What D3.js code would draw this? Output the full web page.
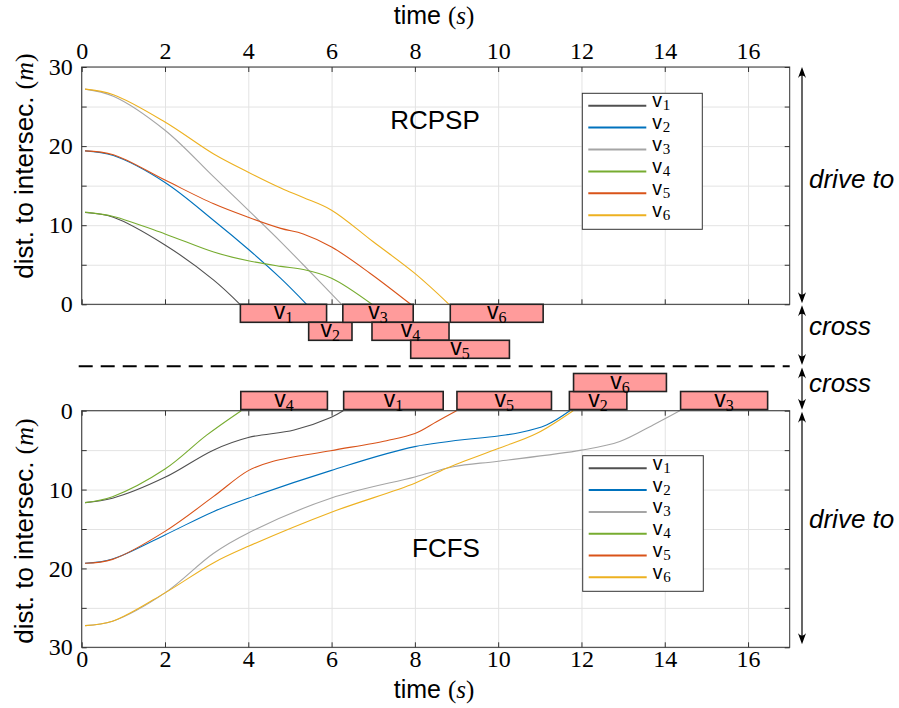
<!DOCTYPE html>
<html><head><meta charset="utf-8">
<script src="https://cdn.jsdelivr.net/npm/d3@7"></script>
<style>
body{margin:0;background:#fff;}
svg{display:block;}
.tick text{font-family:"Liberation Serif","DejaVu Serif",serif;font-size:24px;fill:#000;}
</style>
</head><body>
<svg id="c" width="899" height="708"></svg>
<script>
// ---------------- data ----------------
const vehicles = ["1","2","3","4","5","6"];
const colors = ["#505050","#0072BD","#A5A5A5","#77AC30","#D95319","#EDB120"];
const xTickValues = [0,2,4,6,8,10,12,14,16];
const yTickValues = [0,5,10,15,20,25,30];

// RCPSP trajectories: [time (s), distance (m)]
const rcpspV1 = [[0.08,11.6],[0.76,11.0],[2,7.5],[3.17,3.06],[3.8,0]];
const rcpspV2 = [[0.08,19.4],[0.76,18.8],[2,15.4],[3.17,10.6],[4,6.96],[4.78,3.27],[5.4,0]];
const rcpspV3 = [[0.08,27.2],[0.76,26.3],[2,22.0],[3.17,16.1],[4,11.9],[4.78,7.9],[5.32,5.0],[6.24,0]];
const rcpspV4 = [[0.08,11.65],[0.76,11.1],[2,8.9],[3.17,6.6],[4,5.5],[4.78,4.8],[5.32,4.4],[6,3.3],[6.97,0]];
const rcpspV5 = [[0.08,19.4],[0.76,18.9],[2,15.7],[3.17,12.7],[4,11.0],[4.78,9.6],[5.32,8.9],[6,7.25],[6.93,3.9],[7.9,0]];
const rcpspV6 = [[0.08,27.2],[0.76,26.5],[2,23.05],[3.17,19.0],[4,16.7],[4.78,14.7],[5.32,13.5],[6,11.9],[7,7.9],[8,3.9],[8.82,0]];

// FCFS trajectories
const fcfsV1 = [[0.08,11.66],[0.74,11.1],[2,8.45],[3.16,5.0],[4,3.4],[5.1,2.45],[5.98,0.85],[6.28,0]];
const fcfsV2 = [[0.08,19.35],[0.74,18.8],[2,15.75],[3.16,12.8],[4,11.1],[5.98,7.6],[8,4.56],[10,3.2],[10.5,2.8],[11.16,1.8],[11.72,0]];
const fcfsV3 = [[0.08,27.25],[0.74,26.7],[2,23.1],[3.16,18.1],[4,15.5],[5.98,11.1],[8,8.4],[8.92,7.1],[10,6.4],[12,5.0],[12.92,3.9],[13.72,1.8],[14.36,0]];
const fcfsV4 = [[0.08,11.66],[0.74,10.9],[2,7.4],[3,3.1],[3.83,0]];
const fcfsV5 = [[0.08,19.35],[0.74,18.85],[2,15.3],[3.16,10.9],[4,7.6],[4.6,6.4],[5.98,5.07],[7.32,3.8],[8,2.9],[8.52,1.4],[9.0,0]];
const fcfsV6 = [[0.08,27.25],[0.74,26.7],[2,23.1],[3.16,19.3],[4,17.2],[5.98,12.9],[8,9.2],[8.76,7.3],[10,4.8],[10.92,2.9],[11.8,0]];

// crossing intervals: vehicle, start, end, lane
const rcpspCross = [
  {v:"1", start:3.81, end:5.88, lane:0},
  {v:"2", start:5.45, end:6.49, lane:1},
  {v:"3", start:6.27, end:7.96, lane:0},
  {v:"4", start:6.97, end:8.82, lane:1},
  {v:"5", start:7.90, end:10.27, lane:2},
  {v:"6", start:8.85, end:11.08, lane:0}
];
const fcfsCross = [
  {v:"4", start:3.82, end:5.90, lane:0},
  {v:"1", start:6.29, end:8.68, lane:0},
  {v:"5", start:9.01, end:11.28, lane:0},
  {v:"2", start:11.71, end:13.09, lane:0},
  {v:"6", start:11.81, end:14.04, lane:1},
  {v:"3", start:14.38, end:16.47, lane:0}
];

const rcpspSeries = [rcpspV1,rcpspV2,rcpspV3,rcpspV4,rcpspV5,rcpspV6];
const fcfsSeries = [fcfsV1,fcfsV2,fcfsV3,fcfsV4,fcfsV5,fcfsV6];

// ---------------- layout ----------------
const svg = d3.select("#c");
const L = 81.7, R = 789.7;
const x = d3.scaleLinear().domain([0,17]).range([L,R]);
const yTop = d3.scaleLinear().domain([0,30]).range([304.3,67]);
const yBot = d3.scaleLinear().domain([0,30]).range([410.7,647.3]);
const sans = "'Liberation Sans',Arial,Helvetica,sans-serif";
const serif = "'Liberation Serif','DejaVu Serif',serif";
const axisColor = "#333";

function panel(y, series, isTop){
  const g = svg.append("g");
  const [y0,y1] = [Math.min(...y.range()), Math.max(...y.range())];
  g.append("g").attr("transform",`translate(0,${y1})`)
    .call(d3.axisBottom(x).tickValues(xTickValues).tickSize(-(y1-y0)).tickFormat(""))
    .call(s=>{s.select(".domain").remove(); s.selectAll("line").attr("stroke","#e3e3e3");});
  g.append("g").attr("transform",`translate(${L},0)`)
    .call(d3.axisLeft(y).tickValues(yTickValues).tickSize(-(R-L)).tickFormat(""))
    .call(s=>{s.select(".domain").remove(); s.selectAll("line").attr("stroke","#e3e3e3");});
  const line = d3.line().x(d=>x(d[0])).y(d=>y(d[1])).curve(d3.curveCatmullRom.alpha(0.5));
  series.forEach((s,i)=>{
    g.append("path").datum(s).attr("d",line).attr("fill","none")
      .attr("stroke",colors[i]).attr("stroke-width",1.1);
  });
  g.append("rect").attr("x",L).attr("y",y0).attr("width",R-L).attr("height",y1-y0)
    .attr("fill","none").attr("stroke",axisColor).attr("stroke-width",1);
  if(isTop){
    const ax = g.append("g").attr("transform",`translate(0,${y0})`)
      .call(d3.axisTop(x).tickValues(xTickValues).tickSize(-5).tickPadding(8));
    ax.select(".domain").remove(); ax.selectAll("line").attr("stroke",axisColor);
    const bx = g.append("g").attr("transform",`translate(0,${y1})`)
      .call(d3.axisBottom(x).tickValues(xTickValues).tickSize(-5).tickFormat(""));
    bx.select(".domain").remove(); bx.selectAll("line").attr("stroke",axisColor);
  } else {
    const ax = g.append("g").attr("transform",`translate(0,${y1})`)
      .call(d3.axisBottom(x).tickValues(xTickValues).tickSize(-5).tickPadding(3));
    ax.select(".domain").remove(); ax.selectAll("line").attr("stroke",axisColor);
    const bx = g.append("g").attr("transform",`translate(0,${y0})`)
      .call(d3.axisTop(x).tickValues(xTickValues).tickSize(-5).tickFormat(""));
    bx.select(".domain").remove(); bx.selectAll("line").attr("stroke",axisColor);
  }
  const ly = g.append("g").attr("transform",`translate(${L},0)`)
    .call(d3.axisLeft(y).tickValues(yTickValues).tickSize(-5).tickPadding(9)
      .tickFormat(d=> d%10===0 ? d : ""));
  ly.select(".domain").remove(); ly.selectAll("line").attr("stroke",axisColor);
  const ry = g.append("g").attr("transform",`translate(${R},0)`)
    .call(d3.axisRight(y).tickValues(yTickValues).tickSize(-5).tickFormat(""));
  ry.select(".domain").remove(); ry.selectAll("line").attr("stroke",axisColor);
  return g;
}

panel(yTop, rcpspSeries, true);
panel(yBot, fcfsSeries, false);

function timeTitle(yb){
  const t = svg.append("text").attr("x",434).attr("y",yb).attr("text-anchor","middle")
    .attr("font-family",sans).attr("font-size",25);
  t.append("tspan").text("time ");
  t.append("tspan").attr("font-family",serif).text("(");
  t.append("tspan").attr("font-family",serif).attr("font-style","italic").text("s");
  t.append("tspan").attr("font-family",serif).text(")");
}
timeTitle(24);
timeTitle(698);

function yTitle(cy){
  const t = svg.append("text").attr("transform",`translate(33,${cy}) rotate(-90)`)
    .attr("text-anchor","middle").attr("font-family",sans).attr("font-size",26);
  t.append("tspan").text("dist. to intersec. ");
  t.append("tspan").attr("font-family",serif).text("(");
  t.append("tspan").attr("font-family",serif).attr("font-style","italic").text("m");
  t.append("tspan").attr("font-family",serif).text(")");
}
yTitle(166);
yTitle(531);

svg.append("text").attr("x",435).attr("y",129).attr("text-anchor","middle")
  .attr("font-family",sans).attr("font-size",26).text("RCPSP");
svg.append("text").attr("x",446).attr("y",557).attr("text-anchor","middle")
  .attr("font-family",sans).attr("font-size",26).text("FCFS");

function legend(x0,y0,w,h,firstY,step){
  const g = svg.append("g");
  g.append("rect").attr("x",x0).attr("y",y0).attr("width",w).attr("height",h)
    .attr("fill","#fff").attr("stroke",axisColor).attr("stroke-width",1);
  vehicles.forEach((v,i)=>{
    const yy = firstY + i*step;
    g.append("line").attr("x1",x0+6).attr("x2",x0+64).attr("y1",yy).attr("y2",yy)
      .attr("stroke",colors[i]).attr("stroke-width",2);
    g.append("text").attr("x",x0+70).attr("y",yy+1.5)
      .attr("font-family",sans).attr("font-size",19.5).text("v");
    g.append("text").attr("x",x0+80.5).attr("y",yy+4.5)
      .attr("font-family",serif).attr("font-size",15).text(v);
  });
}
legend(582.3,93.3,120,136,105.7,21.9);
legend(582.7,455.7,120.6,135.6,468.3,21.8);

const barH = 18;
const laneTop = d3.scaleBand().domain([0,1,2]).range([304.3,304.3+3*barH]);
const laneBot = d3.scaleBand().domain([1,0]).range([409.5-2*barH,409.5]);
function bars(data,lane){
  const g = svg.append("g");
  data.forEach(d=>{
    const y0 = lane(d.lane);
    g.append("rect").attr("x",x(d.start)).attr("y",y0).attr("width",x(d.end)-x(d.start))
      .attr("height",lane.bandwidth()).attr("fill","#FF9B9B").attr("stroke","#222").attr("stroke-width",1.6);
  });
  data.forEach(d=>{
    const y0 = lane(d.lane);
    const t = g.append("text").attr("x",(x(d.start)+x(d.end))/2).attr("y",y0+15)
      .attr("text-anchor","middle").attr("font-family",sans).attr("font-size",23);
    t.append("tspan").text("v");
    t.append("tspan").attr("font-family",serif).attr("font-size",16).attr("dy",4).text(d.v);
  });
}
bars(rcpspCross, laneTop);
bars(fcfsCross, laneBot);

svg.append("line").attr("x1",x(0)-3).attr("x2",x(17)).attr("y1",366.3).attr("y2",366.3)
  .attr("stroke","#000").attr("stroke-width",2).attr("stroke-dasharray","14,8");

const ax0 = 802;
function head(yTip, dir){
  const l = 11*dir, w=4;
  svg.append("path").attr("d",`M${ax0},${yTip} L${ax0-w},${yTip-l} Q${ax0},${yTip-l*0.55} ${ax0+w},${yTip-l} Z`)
    .attr("fill","#000");
}
function dArrow(ya,yb){
  svg.append("line").attr("x1",ax0).attr("x2",ax0).attr("y1",ya+3).attr("y2",yb-3)
    .attr("stroke","#000").attr("stroke-width",1.2);
  head(ya,-1); head(yb,1);
}
dArrow(yTop(30), yTop(0)-1);
dArrow(yTop(0)+1, 365);
dArrow(367.5, yBot(0)-1);
dArrow(yBot(0)+1, yBot(30)-3);

function note(txt,yb){
  svg.append("text").attr("x",809).attr("y",yb).attr("font-family",sans)
    .attr("font-style","italic").attr("font-size",26).text(txt);
}
note("drive to",188);
note("cross",335);
note("cross",392);
note("drive to",528);
</script>
</body></html>
